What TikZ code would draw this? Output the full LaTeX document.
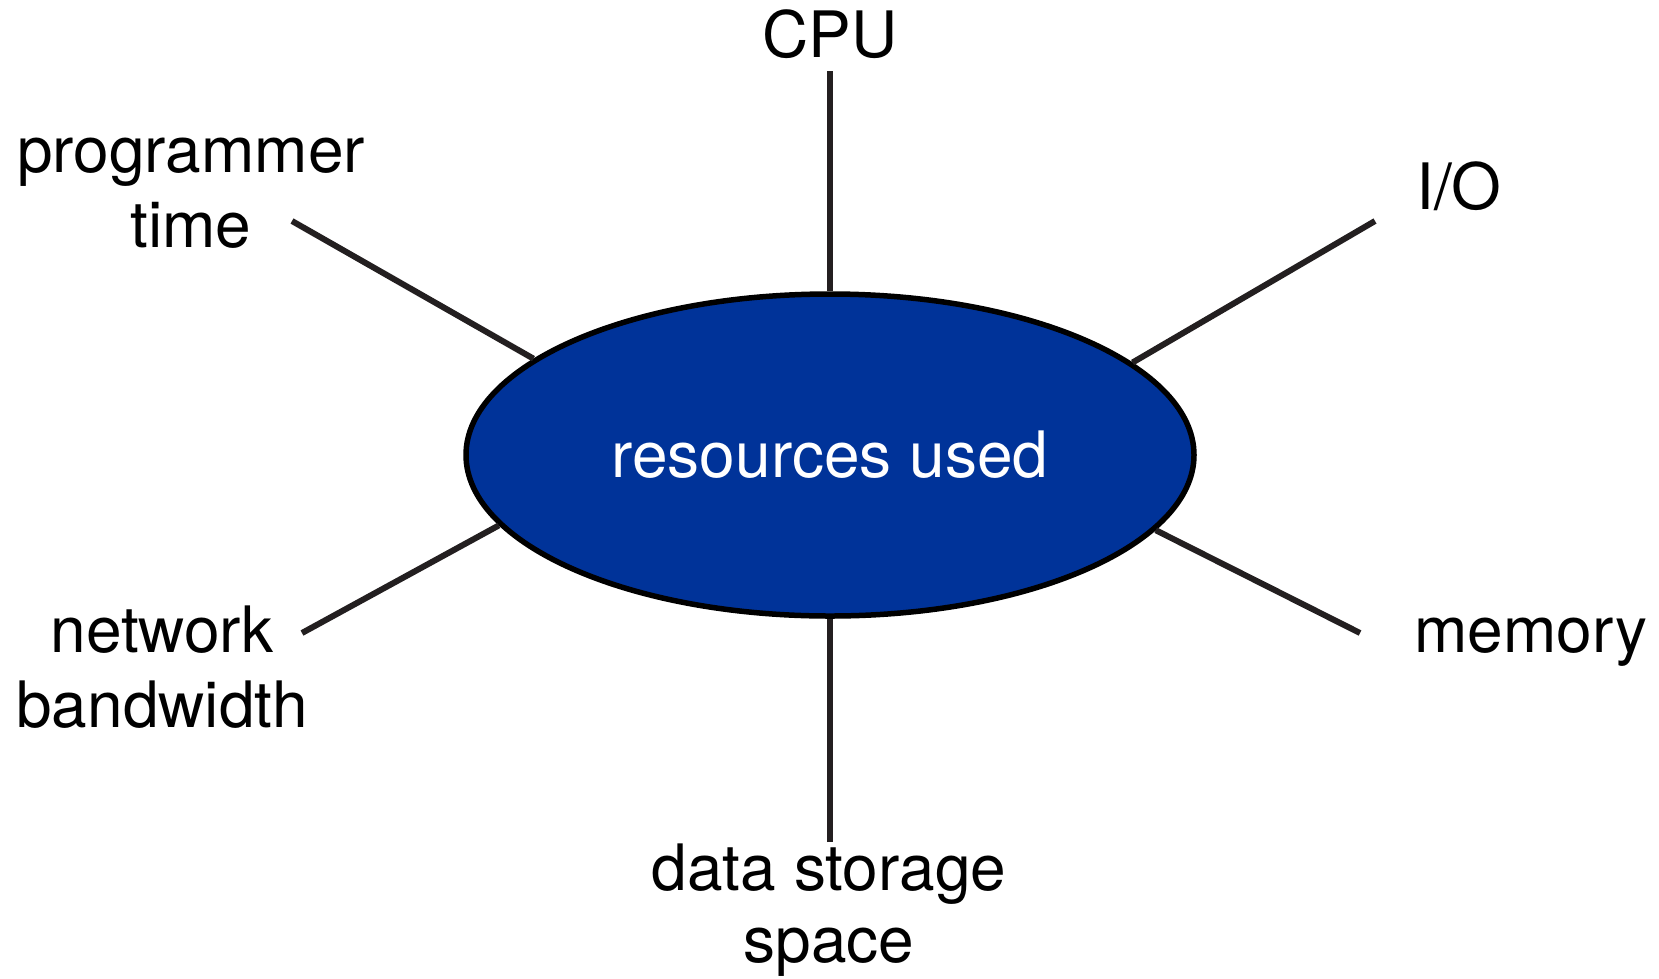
\documentclass[tikz,border=0pt]{standalone}
\usepackage{fontspec}
\setmainfont{TeX Gyre Heros}
\usetikzlibrary{shapes.geometric}
\definecolor{resblue}{RGB}{0,51,153}
\definecolor{spoke}{HTML}{231F20}
\tikzset{
  resnode/.style={ellipse, draw=black, line width=5.5pt, fill=resblue, text=white,
    minimum width=728pt, minimum height=322pt, inner sep=0pt,
    font=\fontsize{64}{75}\selectfont},
  lbl/.style={anchor=base, inner sep=0pt, text=black, font=\fontsize{64}{75}\selectfont},
  spokeline/.style={draw=spoke, line width=6pt}
}
\begin{document}
\begin{tikzpicture}[x=1pt,y=-1pt]
\useasboundingbox (0,0) rectangle (1659,978);
\node[resnode] (res) at (830,455) {resources used};
% labels
\node[lbl] (cpu) at (830,57) {CPU};
\node[lbl] (prog) at (191,172) {\begin{tabular}[t]{@{}c@{}}programmer\\time\end{tabular}};
\node[lbl] (io) at (1459,209) {I/O};
\node[lbl] (net) at (162,652) {\begin{tabular}[t]{@{}c@{}}network\\bandwidth\end{tabular}};
\node[lbl] (mem) at (1531,652) {memory};
\node[lbl] (data) at (829,890) {\fontsize{64}{72}\selectfont\begin{tabular}[t]{@{}c@{}}data storage\\space\end{tabular}};
% free ends
\coordinate (cpuE) at (830,71);
\coordinate (progE) at (292,221);
\coordinate (ioE) at (1375,221);
\coordinate (netE) at (302,633);
\coordinate (memE) at (1360,633);
\coordinate (dataE) at (830,842);
% spokes
\draw[spokeline] (cpuE) -- (res.90);
\draw[spokeline] (progE) -- (res.162);
\draw[spokeline] (ioE) -- (res.17.5);
\draw[spokeline] (netE) -- (res.192.5);
\draw[spokeline] (memE) -- (res.347.5);
\draw[spokeline] (dataE) -- (res.270);
\end{tikzpicture}
\end{document}
